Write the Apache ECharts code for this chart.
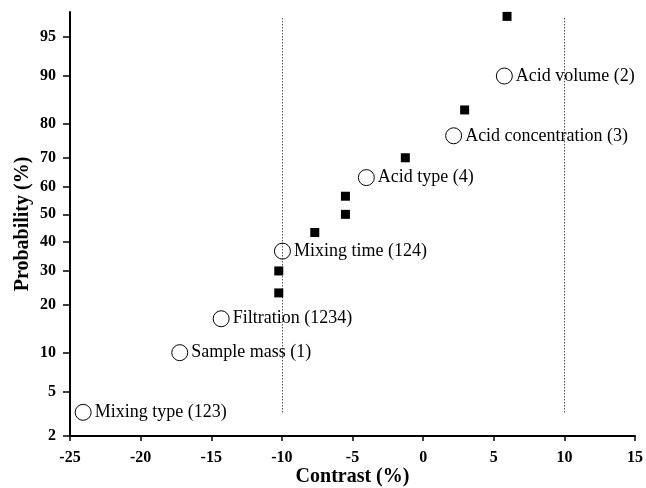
<!DOCTYPE html>
<html>
<head>
<meta charset="utf-8">
<script src="https://cdn.jsdelivr.net/npm/echarts@6/dist/echarts.min.js"></script>
<style>html,body{margin:0;padding:0;background:#fff}#c{width:646px;height:488px}</style>
</head>
<body>
<div id="c"></div>
<script>
// Labelled effects (open circles)
var labelNames = ['Mixing type (123)', 'Sample mass (1)', 'Filtration (1234)', 'Mixing time (124)', 'Acid type (4)', 'Acid concentration (3)', 'Acid volume (2)'];
var labelContrast = [-24.07, -17.23, -14.3, -9.96, -4.02, 2.16, 5.75];
var labelProb = [3.33, 10, 16.67, 36.67, 63.33, 76.67, 90];
// Other effects (filled squares)
var otherContrast = [-10.22, -10.22, -7.67, -5.5, -5.5, -1.26, 2.94, 5.94];
var otherProb = [23.33, 30, 43.33, 50, 56.67, 70, 83.33, 96.67];
// Probability axis tick labels (%)
var probTicks = [2, 5, 10, 20, 30, 40, 50, 60, 70, 80, 90, 95];
// Reference lines (contrast %) and their probability extent
var refLines = [-10, 10];
var refProbRange = [3.33, 96.67];
var xTicks = {min: -25, max: 15, interval: 5};
var yRange = [2, 96.96];

// inverse normal CDF (probability scale transform)
function probit(p) {
  var a=[-3.969683028665376e+01,2.209460984245205e+02,-2.759285104469687e+02,1.383577518672690e+02,-3.066479806614716e+01,2.506628277459239e+00];
  var b=[-5.447609879822406e+01,1.615858368580409e+02,-1.556989798598866e+02,6.680131188771972e+01,-1.328068155288572e+01];
  var c=[-7.784894002430293e-03,-3.223964580411365e-01,-2.400758277161838e+00,-2.549732539343734e+00,4.374664141464968e+00,2.938163982698783e+00];
  var d=[7.784695709041462e-03,3.224671290700398e-01,2.445134137142996e+00,3.754408661907416e+00];
  var pl=0.02425, q, r;
  if (p < pl) { q=Math.sqrt(-2*Math.log(p)); return (((((c[0]*q+c[1])*q+c[2])*q+c[3])*q+c[4])*q+c[5])/((((d[0]*q+d[1])*q+d[2])*q+d[3])*q+1); }
  if (p <= 1-pl) { q=p-0.5; r=q*q; return (((((a[0]*r+a[1])*r+a[2])*r+a[3])*r+a[4])*r+a[5])*q/(((((b[0]*r+b[1])*r+b[2])*r+b[3])*r+b[4])*r+1); }
  q=Math.sqrt(-2*Math.log(1-p)); return -(((((c[0]*q+c[1])*q+c[2])*q+c[3])*q+c[4])*q+c[5])/((((d[0]*q+d[1])*q+d[2])*q+d[3])*q+1);
}
function z(pct){ return probit(pct/100); }

var tickZ = probTicks.map(z);
var serif = 'Liberation Serif, Times New Roman, serif';

var circleData = labelNames.map(function(n,i){ return {name:n, value:[labelContrast[i], z(labelProb[i])]}; });
var squareData = otherContrast.map(function(x,i){ return [x, z(otherProb[i])]; });
var markLines = refLines.map(function(x){ return [{coord:[x, z(refProbRange[0])]},{coord:[x, z(refProbRange[1])]}]; });

var chart = echarts.init(document.getElementById('c'), null, {renderer:'canvas'});
chart.setOption({
  animation:false,
  backgroundColor:'#fff',
  grid:{left:70, right:11, top:12, bottom:52, containLabel:false, outerBoundsMode:'none'},
  xAxis:{
    type:'value', min:xTicks.min, max:xTicks.max, interval:xTicks.interval,
    name:'Contrast (%)', nameLocation:'middle', nameGap:31, nameMoveOverlap:false,
    nameTextStyle:{fontFamily:serif, fontWeight:'bold', fontSize:20, color:'#000'},
    axisLine:{onZero:false, lineStyle:{color:'#000', width:2}},
    axisTick:{show:true, length:5, inside:false, lineStyle:{color:'#000', width:1.5}},
    axisLabel:{fontFamily:serif, fontWeight:'bold', fontSize:16, color:'#000', margin:14},
    splitLine:{show:false}
  },
  yAxis:{
    type:'value', min:z(yRange[0]), max:z(yRange[1]),
    name:'Probability (%)', nameLocation:'middle', nameGap:37, nameMoveOverlap:false,
    nameTextStyle:{fontFamily:serif, fontWeight:'bold', fontSize:20, color:'#000'},
    axisLine:{onZero:false, lineStyle:{color:'#000', width:2}},
    axisTick:{show:true, length:7, customValues:tickZ, lineStyle:{color:'#000', width:1.5}},
    axisLabel:{fontFamily:serif, fontWeight:'bold', fontSize:16, color:'#000', margin:14,
      customValues:tickZ,
      formatter:function(v){
        var best=0, bd=1e9;
        for (var i=0;i<tickZ.length;i++){ var dd=Math.abs(tickZ[i]-v); if(dd<bd){bd=dd;best=i;} }
        return String(probTicks[best]);
      }},
    splitLine:{show:false}
  },
  series:[
    {
      type:'scatter', name:'other', data:squareData, symbol:'rect', symbolSize:9,
      itemStyle:{color:'#000', opacity:1},
      markLine:{silent:true, symbol:['none','none'], label:{show:false},
        lineStyle:{color:'#000', width:1, type:[1,2]}, data:markLines}
    },
    {
      type:'scatter', name:'labelled', data:circleData, symbol:'circle', symbolSize:16,
      itemStyle:{color:'#fff', borderColor:'#000', borderWidth:1, opacity:1},
      label:{show:true, position:'right', distance:3, formatter:'{b}',
        fontFamily:serif, fontSize:18, color:'#000'}
    }
  ]
});
</script>
</body>
</html>
